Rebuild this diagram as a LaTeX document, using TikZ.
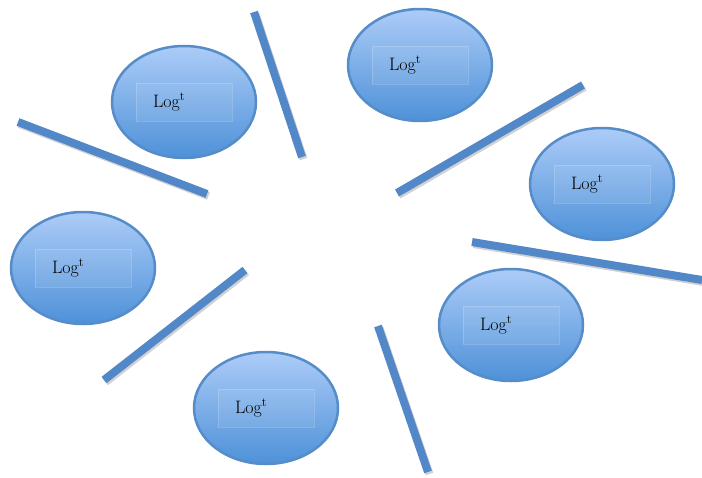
\documentclass[tikz,border=0pt]{standalone}
\usetikzlibrary{shapes.geometric}

\definecolor{ellTop}{RGB}{172,204,248}
\definecolor{ellBot}{RGB}{78,145,216}
\definecolor{ellRim}{RGB}{86,140,200}
\definecolor{barBlue}{RGB}{82,136,200}

\begin{document}
\begin{tikzpicture}[
    x=1pt, y=-1pt,
    logcell/.style={
        ellipse, draw=ellRim, line width=2.5pt,
        minimum width=144pt, minimum height=112pt,
        inner sep=0pt,
        top color=ellTop, bottom color=ellBot
    },
    logbox/.style={
        draw=white, draw opacity=0.18,
        fill=white, fill opacity=0.07, text opacity=1,
        text width=62pt, align=left,
        inner xsep=17pt, minimum height=38pt,
        font=\fontsize{18}{21}\selectfont
    },
    bar/.style={line width=8pt, draw=barBlue},
    barshadow/.style={line width=8pt, draw=black, opacity=0.18}
]
\useasboundingbox (0,0) rectangle (702,477);

% =========================================================
% Trennbalken
% =========================================================
\foreach \ax/\ay/\bx/\by in {254/12/302/157, 18/122/207/194,
        397/193/583/85, 472/242/702/280,
        245/270/104/380, 378/326/428/472} {
    \draw[barshadow] (\ax+1.5,\ay+2) -- (\bx+1.5,\by+2);
    \draw[bar] (\ax,\ay) -- (\bx,\by);
}

% =========================================================
% Log-Ellipsen
% =========================================================
\node[logcell] (e1) at (184,102) {};
\node[logcell] (e2) at (420,65) {};
\node[logcell] (e3) at (602,184) {};
\node[logcell] (e4) at (83,268) {};
\node[logcell] (e5) at (511,325) {};
\node[logcell] (e6) at (266,408) {};

% Beschriftung
\foreach \i in {1,...,6} {
    \node[logbox] (t\i) at (e\i) {Log\textsuperscript{t}};
}

\end{tikzpicture}
\end{document}
